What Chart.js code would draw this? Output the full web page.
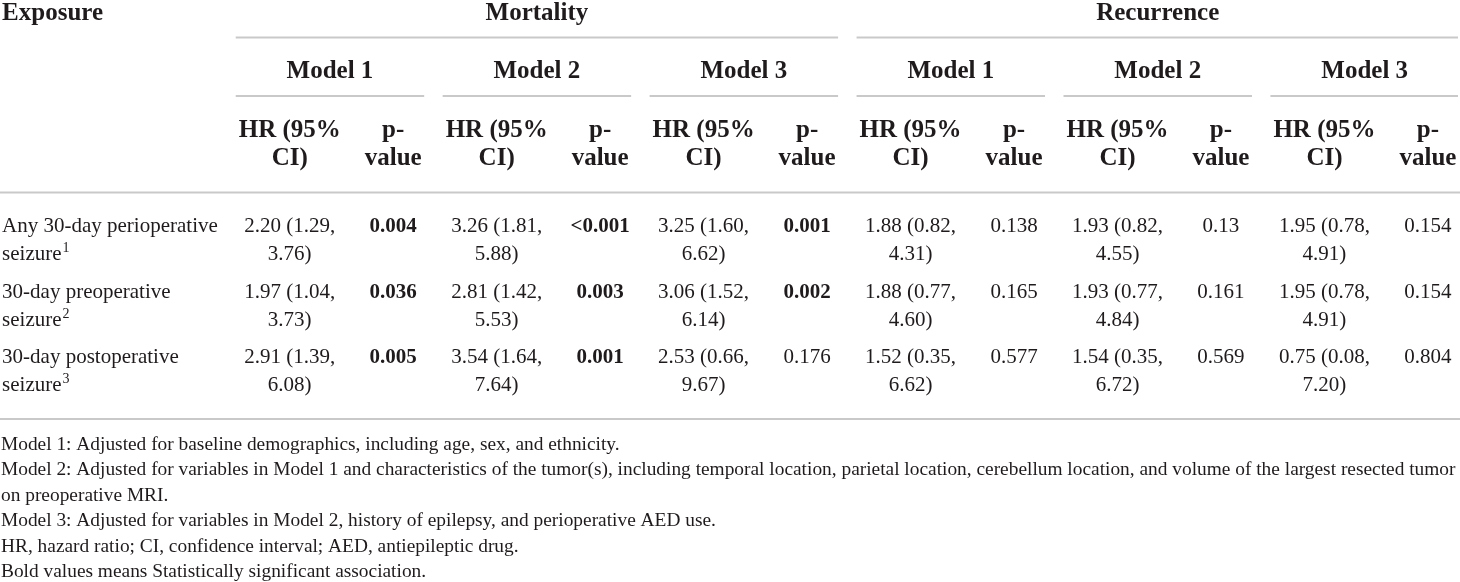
<!DOCTYPE html>
<html>
<head>
<meta charset="utf-8">
<title>Perioperative seizure and outcomes</title>
<script src="https://cdn.jsdelivr.net/npm/chart.js@4.4.1/dist/chart.umd.min.js"></script>
<style>
    html, body { margin: 0; padding: 0; background: #fff; }
    #wrap { width: 1460px; height: 582px; }
</style>
</head>
<body>
<div id="wrap"><canvas id="tbl" width="1460" height="582"></canvas></div>
<script>
// ---- table content ----
const outcomes = ['Mortality', 'Recurrence'];
const models = ['Model 1', 'Model 2', 'Model 3'];
const hrHead = ['HR (95%', 'CI)'];
const pHead = ['p-', 'value'];
const exposureHead = 'Exposure';

const exposures = ['Any 30-day perioperative', '30-day preoperative', '30-day postoperative'];
const exposureTail = 'seizure';
const exposureMarks = ['1', '2', '3'];

// rows = exposures, columns = Model 1..3
const mortalityHR = [
    ['2.20 (1.29, 3.76)', '3.26 (1.81, 5.88)', '3.25 (1.60, 6.62)'],
    ['1.97 (1.04, 3.73)', '2.81 (1.42, 5.53)', '3.06 (1.52, 6.14)'],
    ['2.91 (1.39, 6.08)', '3.54 (1.64, 7.64)', '2.53 (0.66, 9.67)']
];
const mortalityP = [
    ['0.004', '<0.001', '0.001'],
    ['0.036', '0.003', '0.002'],
    ['0.005', '0.001', '0.176']
];
const recurrenceHR = [
    ['1.88 (0.82, 4.31)', '1.93 (0.82, 4.55)', '1.95 (0.78, 4.91)'],
    ['1.88 (0.77, 4.60)', '1.93 (0.77, 4.84)', '1.95 (0.78, 4.91)'],
    ['1.52 (0.35, 6.62)', '1.54 (0.35, 6.72)', '0.75 (0.08, 7.20)']
];
const recurrenceP = [
    ['0.138', '0.13', '0.154'],
    ['0.165', '0.161', '0.154'],
    ['0.577', '0.569', '0.804']
];

const footnotes = [
    'Model 1: Adjusted for baseline demographics, including age, sex, and ethnicity.',
    'Model 2: Adjusted for variables in Model 1 and characteristics of the tumor(s), including temporal location, parietal location, cerebellum location, and volume of the largest resected tumor',
    'on preoperative MRI.',
    'Model 3: Adjusted for variables in Model 2, history of epilepsy, and perioperative AED use.',
    'HR, hazard ratio; CI, confidence interval; AED, antiepileptic drug.',
    'Bold values means Statistically significant association.'
];

// ---- layout ----
const FONT = '"Liberation Serif", "DejaVu Serif", serif';
const INK = '#1f1b1c';
const RULE = '#c9c9c9';
const EXPOSURE_COL = -1.78;
const LINE_GAP = 28;
const BODY_SIZE = 21, HEAD_SIZE = 25, NOTE_SIZE = 19.5;
const HEAD_Y = { outcome: 20, model: 78, sub1: 137, sub2: 165 };
const RULE_Y = { outcome: 37.5, model: 96, head: 192.5, body: 419 };
const SPAN_LEFT = 54, SPAN_RIGHT = 31;
const NOTE_Y = 449.5, NOTE_GAP = 25.5;

const isSignificant = p => parseFloat(p.replace('<', '')) < 0.05;
const hrCol = (o, m) => 1 + (o * 3 + m) * 2;

const datasets = [{
    label: exposureHead,
    kind: 'exposure',
    data: exposures.map((_, r) => ({ x: EXPOSURE_COL, y: r })),
    texts: exposures
}];
[[mortalityHR, mortalityP], [recurrenceHR, recurrenceP]].forEach(([hr, p], o) => {
    models.forEach((name, m) => {
        datasets.push({
            label: `${outcomes[o]} ${name} HR`,
            kind: 'hr',
            data: hr.map((_, r) => ({ x: hrCol(o, m), y: r })),
            texts: hr.map(row => row[m])
        });
        datasets.push({
            label: `${outcomes[o]} ${name} p`,
            kind: 'p',
            data: p.map((_, r) => ({ x: hrCol(o, m) + 1, y: r })),
            texts: p.map(row => row[m])
        });
    });
});

function setFont(ctx, size, bold) {
    ctx.font = `${bold ? 'bold ' : ''}${size}px ${FONT}`;
}

function hLine(ctx, x1, x2, y) {
    ctx.beginPath();
    ctx.moveTo(x1, y);
    ctx.lineTo(x2, y);
    ctx.stroke();
}

const tablePlugin = {
    id: 'tableText',
    afterDatasetsDraw(chart) {
        const { ctx, chartArea, scales: { x } } = chart;
        ctx.save();
        ctx.fillStyle = INK;
        ctx.textBaseline = 'alphabetic';

        // rules
        ctx.strokeStyle = RULE;
        ctx.lineWidth = 2;
        hLine(ctx, chartArea.left, chartArea.right, RULE_Y.head);
        hLine(ctx, chartArea.left, chartArea.right, RULE_Y.body);
        outcomes.forEach((_, o) => {
            const l = x.getPixelForValue(hrCol(o, 0)) - SPAN_LEFT;
            const r = Math.min(chartArea.right - 2, x.getPixelForValue(hrCol(o, 2) + 1) + SPAN_RIGHT);
            hLine(ctx, l, r, RULE_Y.outcome);
            models.forEach((_, m) => {
                const ml = x.getPixelForValue(hrCol(o, m)) - SPAN_LEFT;
                const mr = Math.min(chartArea.right - 2, x.getPixelForValue(hrCol(o, m) + 1) + SPAN_RIGHT);
                hLine(ctx, ml, mr, RULE_Y.model);
            });
        });

        // headers
        setFont(ctx, HEAD_SIZE, true);
        ctx.textAlign = 'left';
        ctx.fillText(exposureHead, x.getPixelForValue(EXPOSURE_COL), HEAD_Y.outcome);
        ctx.textAlign = 'center';
        outcomes.forEach((name, o) => {
            const l = x.getPixelForValue(hrCol(o, 0)) - SPAN_LEFT;
            const r = x.getPixelForValue(hrCol(o, 2) + 1) + SPAN_RIGHT;
            ctx.fillText(name, (l + r) / 2, HEAD_Y.outcome);
            models.forEach((mName, m) => {
                const hx = x.getPixelForValue(hrCol(o, m));
                const px = x.getPixelForValue(hrCol(o, m) + 1);
                const ml = hx - SPAN_LEFT, mr = px + SPAN_RIGHT;
                ctx.fillText(mName, (ml + mr) / 2, HEAD_Y.model);
                ctx.fillText(hrHead[0], hx, HEAD_Y.sub1);
                ctx.fillText(hrHead[1], hx, HEAD_Y.sub2);
                ctx.fillText(pHead[0], px, HEAD_Y.sub1);
                ctx.fillText(pHead[1], px, HEAD_Y.sub2);
            });
        });

        // body cells, placed at the points of each dataset
        chart.data.datasets.forEach((ds, i) => {
            const meta = chart.getDatasetMeta(i);
            meta.data.forEach((pt, r) => {
                const text = ds.texts[r];
                if (ds.kind === 'exposure') {
                    setFont(ctx, BODY_SIZE, false);
                    ctx.textAlign = 'left';
                    ctx.fillText(text, pt.x, pt.y);
                    ctx.fillText(exposureTail, pt.x, pt.y + LINE_GAP);
                    const w = ctx.measureText(exposureTail).width;
                    setFont(ctx, 14, false);
                    ctx.fillText(exposureMarks[r], pt.x + w + 1, pt.y + LINE_GAP - 8);
                } else if (ds.kind === 'hr') {
                    setFont(ctx, BODY_SIZE, false);
                    ctx.textAlign = 'center';
                    const cut = text.indexOf(', ') + 1;
                    ctx.fillText(text.slice(0, cut), pt.x, pt.y);
                    ctx.fillText(text.slice(cut + 1), pt.x, pt.y + LINE_GAP);
                } else {
                    setFont(ctx, BODY_SIZE, isSignificant(text));
                    ctx.textAlign = 'center';
                    ctx.fillText(text, pt.x, pt.y);
                }
            });
        });

        // notes: shrink a little if the longest line would run off the edge
        setFont(ctx, NOTE_SIZE, false);
        const widest = Math.max(...footnotes.map(l => ctx.measureText(l).width));
        const room = chartArea.width - 4;
        if (widest > room) setFont(ctx, NOTE_SIZE * room / widest, false);
        ctx.textAlign = 'left';
        footnotes.forEach((line, k) => {
            ctx.fillText(line, chartArea.left + 1, NOTE_Y + k * NOTE_GAP);
        });
        ctx.restore();
    }
};

new Chart(document.getElementById('tbl'), {
    type: 'scatter',
    data: { datasets },
    options: {
        responsive: false,
        animation: false,
        devicePixelRatio: 1,
        layout: { padding: 0 },
        elements: { point: { radius: 0, hoverRadius: 0 } },
        scales: {
            x: { type: 'linear', min: -1.8, max: 12.31, display: false },
            y: { type: 'linear', min: -3.533, max: 5.33, reverse: true, display: false }
        },
        plugins: { legend: { display: false }, tooltip: { enabled: false } }
    },
    plugins: [tablePlugin]
});
</script>
</body>
</html>
